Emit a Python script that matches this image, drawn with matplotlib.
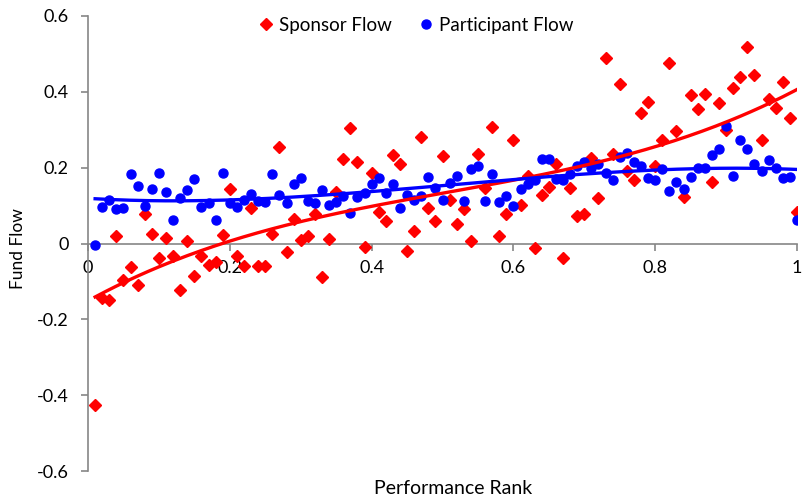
import numpy as np
import matplotlib.pyplot as plt
from matplotlib.ticker import FuncFormatter

plt.rcParams['font.family'] = ['Lato', 'DejaVu Sans']
plt.rcParams['axes.unicode_minus'] = False

# performance rank 0.01 .. 1.00
rank = np.arange(1, 101) / 100

sponsor_flow = [
    -0.426, -0.143, -0.148, 0.019, -0.096, -0.063, -0.108, 0.078, 0.026, -0.037,
    0.015, -0.034, -0.123, 0.006, -0.085, -0.033, -0.056, -0.049, 0.023, 0.144,
    -0.033, -0.060, 0.094, -0.058, -0.058, 0.026, 0.255, -0.023, 0.065, 0.010,
    0.020, 0.078, -0.087, 0.013, 0.137, 0.224, 0.305, 0.215, -0.010, 0.187,
    0.083, 0.059, 0.233, 0.209, -0.020, 0.034, 0.280, 0.094, 0.060, 0.230,
    0.116, 0.052, 0.092, 0.006, 0.235, 0.147, 0.306, 0.020, 0.078, 0.272,
    0.102, 0.177, -0.012, 0.128, 0.150, 0.210, -0.038, 0.147, 0.073, 0.077,
    0.226, 0.120, 0.488, 0.237, 0.420, 0.190, 0.167, 0.343, 0.372, 0.204,
    0.272, 0.475, 0.297, 0.123, 0.392, 0.354, 0.393, 0.162, 0.370, 0.300,
    0.410, 0.438, 0.517, 0.443, 0.272, 0.380, 0.358, 0.427, 0.332, 0.083,
]

participant_flow = [
    -0.003, 0.096, 0.114, 0.091, 0.093, 0.184, 0.152, 0.100, 0.145, 0.186,
    0.137, 0.063, 0.120, 0.140, 0.169, 0.096, 0.108, 0.063, 0.185, 0.108,
    0.095, 0.116, 0.131, 0.111, 0.109, 0.182, 0.127, 0.108, 0.156, 0.173,
    0.111, 0.108, 0.142, 0.102, 0.110, 0.124, 0.081, 0.123, 0.133, 0.158,
    0.173, 0.133, 0.158, 0.094, 0.127, 0.116, 0.124, 0.175, 0.147, 0.116,
    0.160, 0.177, 0.111, 0.196, 0.204, 0.111, 0.183, 0.110, 0.124, 0.100,
    0.145, 0.158, 0.167, 0.222, 0.222, 0.169, 0.167, 0.183, 0.205, 0.215,
    0.200, 0.210, 0.186, 0.167, 0.228, 0.238, 0.215, 0.205, 0.173, 0.167,
    0.196, 0.138, 0.162, 0.143, 0.175, 0.200, 0.200, 0.233, 0.250, 0.310,
    0.178, 0.272, 0.248, 0.209, 0.191, 0.220, 0.200, 0.172, 0.175, 0.061,
]

red = '#FF0000'
blue = '#0000FF'
grey = '#868686'

fig = plt.figure(figsize=(8.04, 4.97), dpi=100)
ax = fig.add_axes([0.1095, 0.052, 0.8818, 0.916])

ax.plot(rank, sponsor_flow, 'D', color=red, markersize=6, label='Sponsor Flow', zorder=3)
ax.plot(rank, participant_flow, 'o', color=blue, markersize=6.5, label='Participant Flow', zorder=3)

# cubic trend lines
xs = np.linspace(rank[0], rank[-1], 200)
ax.plot(xs, np.polyval(np.polyfit(rank, sponsor_flow, 3), xs), color=red, lw=2.4, zorder=4)
ax.plot(xs, np.polyval(np.polyfit(rank, participant_flow, 3), xs), color=blue, lw=2.4, zorder=4)

ax.set_xlim(0, 1)
ax.set_ylim(-0.6, 0.6)
ax.set_xticks([0, 0.2, 0.4, 0.6, 0.8, 1])
ax.set_yticks([-0.6, -0.4, -0.2, 0, 0.2, 0.4, 0.6])
fmt = FuncFormatter(lambda v, p: '{:g}'.format(round(v, 2)))
ax.xaxis.set_major_formatter(fmt)
ax.yaxis.set_major_formatter(fmt)

ax.spines['top'].set_visible(False)
ax.spines['right'].set_visible(False)
ax.spines['bottom'].set_position(('data', 0))
for s in ('left', 'bottom'):
    ax.spines[s].set_color(grey)
    ax.spines[s].set_linewidth(1.2)
ax.tick_params(axis='both', colors=grey, labelcolor='black', labelsize=13, length=5, width=1.2)
ax.tick_params(axis='x', pad=7)
ax.tick_params(axis='y', pad=9)

ax.legend(loc='upper center', bbox_to_anchor=(0.46, 1.035), ncol=2, frameon=False,
          fontsize=13.5, handletextpad=0.1, columnspacing=1.2, handlelength=1.2)

fig.text(0.564, 0.018, 'Performance Rank', ha='center', va='center', fontsize=14)
fig.text(0.022, 0.5, 'Fund Flow', ha='center', va='center', rotation=90, fontsize=12.5)

fig.savefig('out.png', dpi=100)
